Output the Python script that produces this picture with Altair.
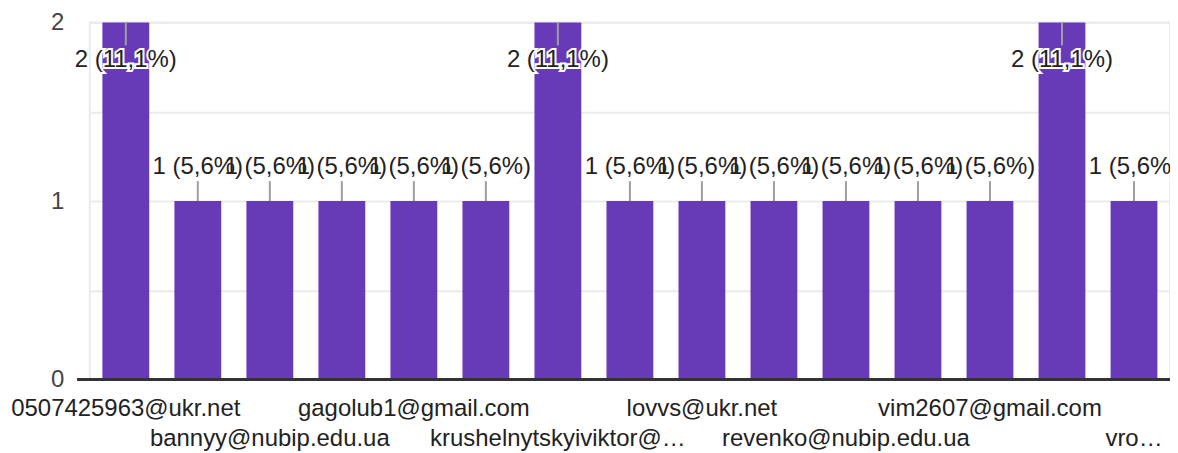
import altair as alt
import pandas as pd

# Categories (only every other one is labelled on the axis in the original)
categories = [
    "0507425963@ukr.net", "hidden_02", "bannyy@nubip.edu.ua", "hidden_04",
    "gagolub1@gmail.com", "hidden_06", "krushelnytskyiviktor@…", "hidden_08",
    "lovvs@ukr.net", "hidden_10", "revenko@nubip.edu.ua", "hidden_12",
    "vim2607@gmail.com", "hidden_14", "vro…",
]
counts = [2, 1, 1, 1, 1, 1, 2, 1, 1, 1, 1, 1, 1, 2, 1]

total = sum(counts)
labels = [f"{c} ({c / total * 100:.1f}%)".replace(".", ",") for c in counts]

df = pd.DataFrame({"cat": categories, "count": counts, "label": labels})

shown = categories[::2]
row2 = categories[2::4]
shown_js = "[" + ",".join("'" + s + "'" for s in shown) + "]"
row2_js = "[" + ",".join("'" + s + "'" for s in row2) + "]"

FONT = "Liberation Sans"
PURPLE = "#673ab7"

W, H = 1083, 358

x_enc = alt.X(
    "cat:N",
    sort=categories,
    scale=alt.Scale(paddingInner=0.35, paddingOuter=0.175),
    axis=alt.Axis(
        title=None,
        labelAngle=0,
        labelExpr=f"indexof({shown_js}, datum.value) >= 0 ? datum.value : ''",
        labelPadding={"condition": {"test": f"indexof({row2_js}, datum.value) >= 0", "value": 47}, "value": 17},
        labelOverlap=False,
        labelLimit=400,
        labelFontSize=24,
        labelFont=FONT,
        labelColor="#222222",
        ticks=False,
        tickSize=0,
        domain=False,
        labelBaseline="top",
    ),
)

y_scale = alt.Scale(domain=[0, 2], nice=False)

y_enc = alt.Y(
    "count:Q",
    scale=y_scale,
    axis=alt.Axis(
        title=None,
        values=[0, 0.5, 1, 1.5, 2],
        labelExpr="datum.value % 1 == 0 ? '' + datum.value : ''",
        labelOverlap=False,
        labelFontSize=24,
        labelFont=FONT,
        labelColor="#444444",
        labelPadding=26,
        ticks=False,
        tickSize=0,
        domain=False,
        grid=True,
        gridColor="#ebebeb",
        gridWidth=2,
    ),
)

base = alt.Chart(df)

bars = base.mark_bar(color=PURPLE).encode(x=x_enc, y=y_enc)

hi = "datum.count >= 2"
lo = "datum.count < 2"

lead_hi = base.transform_filter(hi).mark_rule(color="#9e9e9e", strokeWidth=2, y2Offset=23).encode(
    x=alt.X("cat:N", sort=categories), y=alt.Y("count:Q", scale=y_scale), y2="count:Q"
)
lead_lo = base.transform_filter(lo).mark_rule(color="#9e9e9e", strokeWidth=2, y2Offset=-20).encode(
    x=alt.X("cat:N", sort=categories), y=alt.Y("count:Q", scale=y_scale), y2="count:Q"
)

def text_layer(flt, dy, halo):
    props = dict(font=FONT, fontSize=24, baseline="middle", align="center", dy=dy)
    if halo:
        props.update(stroke="white", strokeWidth=4, color="white")
    else:
        props.update(color="#222222")
    return base.transform_filter(flt).mark_text(**props).encode(
        x=alt.X("cat:N", sort=categories), y=alt.Y("count:Q", scale=y_scale), text="label:N"
    )

zero = alt.Chart(df).mark_rule(color="#333333", strokeWidth=3).encode(
    x=alt.value(-12), x2=alt.value(W), y=alt.datum(0)
)

chart = alt.layer(
    bars,
    lead_hi, lead_lo,
    text_layer(hi, 38, True), text_layer(lo, -34, True),
    text_layer(hi, 38, False), text_layer(lo, -34, False),
    zero,
).properties(
    width=W, height=H,
    autosize=alt.AutoSizeParams(type="none"),
    padding={"left": 82, "top": 14, "right": 0, "bottom": 72},
).configure_view(stroke="#ebebeb", strokeWidth=2)

chart.save("out.html", embed_options={"renderer": "svg", "actions": False})
